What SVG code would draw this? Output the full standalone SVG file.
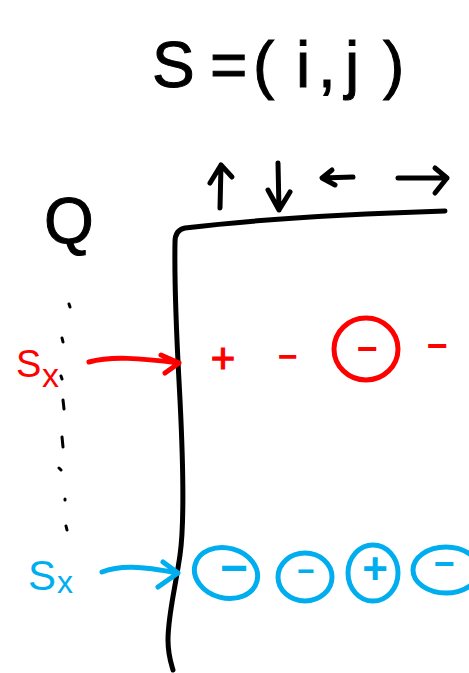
<svg xmlns="http://www.w3.org/2000/svg" width="469" height="673" viewBox="0 0 469 673">
<style>
.k{fill:none;stroke:#000;stroke-width:5;stroke-linecap:round;stroke-linejoin:round}
.r{fill:none;stroke:#ff0000;stroke-width:5;stroke-linecap:round;stroke-linejoin:round}
.b{fill:none;stroke:#00aeef;stroke-width:5;stroke-linecap:round;stroke-linejoin:round}
.t{font-family:"Liberation Sans",Arial,sans-serif}
.tk{fill:#000;stroke:#000;stroke-width:1}.tr{fill:#ff0000}.tb{fill:#00aeef}
.d{fill:none;stroke:#000;stroke-width:3;stroke-linecap:round}
</style>
<rect width="469" height="673" fill="#fff"/>
<g id="title">
<text class="t tk" font-size="64" y="87"><tspan x="152">S</tspan><tspan x="210">=</tspan><tspan x="253">(</tspan><tspan x="296">i</tspan><tspan x="318">,</tspan><tspan x="345">j</tspan><tspan x="383">)</tspan></text>
</g>
<g id="actions">
<path class="k" d="M220,208 L221,165 M210,183 L221,165 L232,177"/>
<path class="k" d="M278,163 L279,210 M268,190 L279,210 L290,192"/>
<path class="k" d="M353,177 L322,178 M332,170 L322,178 L335,185"/>
<path class="k" d="M398,178 L447,178 M435,168 L447,178 L435,193"/>
</g>
<g id="grid">
<path class="k" d="M445,211 C350,214 250,220 185,228 Q175,230 175,242 C174,300 178,360 180,400 C183,460 185,520 180,555 C175,590 168,615 168,640 C168,655 171,663 173,670"/>
</g>
<g id="Q">
<text class="t tk" font-size="64" x="44" y="243">Q</text>
</g>
<g id="dots">
<path class="d" d="M69,304 L70,307 M62,338 L63,342 M61,376 L62,379 M63,400 L64,409 M62,437 L63,447 M59,468 L61,470 M65,499 L65,500 M66,526 L67,530"/>
</g>
<g id="state-red">
<text class="t tr" font-size="38" x="16" y="377">S</text>
<text class="t tr" font-size="34" x="42" y="387">x</text>
</g>
<g id="state-blue">
<text class="t tb" font-size="42" x="28" y="590">S</text>
<text class="t tb" font-size="32" x="57" y="593">x</text>
</g>
<g id="connectors">
<path class="r" d="M89,362 C110,356 140,358 179,363 M161,355 L179,363 L165,373"/>
<path class="b" d="M102,572 C120,565 140,566 178,573 M163,562 L178,573 L158,587"/>
</g>
<g id="row-red">
<text class="t tr" font-size="42" text-anchor="middle" x="223" y="373" stroke="#ff0000" stroke-width="1.2">+</text>
<text class="t tr" font-size="34" font-weight="bold" text-anchor="middle" x="288" y="368">−</text>
<ellipse class="r" cx="366" cy="349" rx="32" ry="31"/>
<text class="t tr" font-size="36" font-weight="bold" text-anchor="middle" x="367" y="361">−</text>
<text class="t tr" font-size="36" font-weight="bold" text-anchor="middle" x="437" y="358">−</text>
</g>
<g id="row-blue">
<ellipse class="b" cx="226" cy="573" rx="32" ry="25" transform="rotate(15 226 573)"/>
<text class="t tb" font-size="48" font-weight="bold" text-anchor="middle" x="234" y="584">−</text>
<ellipse class="b" cx="305" cy="577" rx="27" ry="24"/>
<text class="t tb" font-size="30" font-weight="bold" text-anchor="middle" x="306" y="581">−</text>
<ellipse class="b" cx="373" cy="573" rx="25" ry="28"/>
<text class="t tb" font-size="44" font-weight="bold" text-anchor="middle" x="375" y="584">+</text>
<ellipse class="b" cx="446" cy="570" rx="33" ry="23"/>
<text class="t tb" font-size="36" font-weight="bold" text-anchor="middle" x="444" y="576">−</text>
</g>
</svg>
